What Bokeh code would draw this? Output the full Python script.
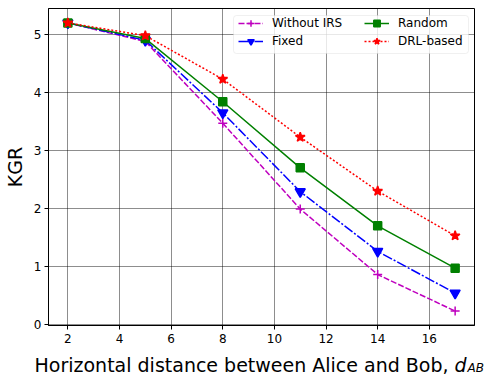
import numpy as np
from bokeh.plotting import figure
from bokeh.models import Range1d, FixedTicker, Legend, LegendItem, Label, BoxAnnotation
from bokeh.embed import file_html
from bokeh.resources import INLINE

# ---- data ----
distance = [2, 5, 8, 11, 14, 17]
without_irs = [5.20, 4.88, 3.47, 1.99, 0.86, 0.23]
fixed_irs = [5.20, 4.90, 3.65, 2.29, 1.26, 0.54]
random_irs = [5.20, 4.93, 3.84, 2.70, 1.70, 0.97]
drl_based = [5.20, 4.98, 4.23, 3.23, 2.30, 1.53]
series_names = ["Without IRS", "Fixed", "Random", "DRL-based"]
x_ticks = [2, 4, 6, 8, 10, 12, 14, 16]
y_ticks = [0, 1, 2, 3, 4, 5]
y_label = "KGR"
x_label = "Horizontal distance between Alice and Bob,"

FONT = "DejaVu Sans"
FW, FH = 426, 317

allv = without_irs + fixed_irs + random_irs + drl_based
xm = 0.05 * (max(distance) - min(distance))
ym = 0.05 * (max(allv) - min(allv))
xr = Range1d(min(distance) - xm, max(distance) + xm)
yr = Range1d(min(allv) - ym, max(allv) + ym)

p = figure(
    frame_width=FW, frame_height=FH,
    min_border_left=47, min_border_right=12, min_border_top=8, min_border_bottom=50,
    x_range=xr, y_range=yr,
    output_backend="svg", toolbar_location=None,
)
p.outline_line_color = "black"
p.outline_line_width = 1
p.outline_line_alpha = 1

for ax in (p.xaxis, p.yaxis):
    ax.axis_line_color = "black"
    ax.major_tick_line_color = "black"
    ax.major_tick_out = 4
    ax.major_tick_in = 0
    ax.minor_tick_line_color = None
    ax.major_label_text_font = FONT
    ax.major_label_text_font_size = "12px"
    ax.major_label_text_color = "black"
p.xaxis.ticker = FixedTicker(ticks=x_ticks)
p.yaxis.ticker = FixedTicker(ticks=y_ticks)
p.xaxis.major_label_standoff = 4
p.yaxis.major_label_standoff = 3

p.yaxis.axis_label = y_label
p.yaxis.axis_label_text_font = FONT
p.yaxis.axis_label_text_font_size = "19px"
p.yaxis.axis_label_text_font_style = "normal"
p.yaxis.axis_label_text_color = "black"
p.yaxis.axis_label_standoff = 5

for g in (p.xgrid, p.ygrid):
    g.grid_line_color = "black"
    g.grid_line_dash = "1 1"
    g.grid_line_width = 0.9
    g.grid_line_alpha = 1
p.xgrid.ticker = FixedTicker(ticks=x_ticks)
p.ygrid.ticker = FixedTicker(ticks=y_ticks)

styles = [
    (without_irs, "#bf00bf", "6 2", "cross", 9),
    (fixed_irs, "#0000ff", "10 2 2 2", "inverted_triangle", 10),
    (random_irs, "#008000", "solid", "square", 8),
    (drl_based, "#ff0000", "2 2", "star", 10),
]
items = []
for name, (ys, col, dash, mk, sz) in zip(series_names, styles):
    ln = p.line(distance, ys, line_color=col, line_width=1.5, line_dash=dash)
    sc = p.scatter(distance, ys, marker=mk, size=sz, fill_color=col, line_color=col, line_width=1.5)
    items.append(LegendItem(label=name, renderers=[ln, sc]))

# legend frame (matplotlib-like rounded box), then two borderless columns
p.add_layout(BoxAnnotation(left=185, right=420, bottom=272, top=310,
                           left_units="screen", right_units="screen",
                           bottom_units="screen", top_units="screen",
                           fill_color="white", fill_alpha=0.8,
                           line_color="#cccccc", line_width=1, border_radius=3))
for col_items, loc in ((items[:2], (190, 276)), (items[2:], (316, 276))):
    lg = Legend(
        items=col_items, location=loc, orientation="vertical",
        label_text_font=FONT, label_text_font_size="12px", label_text_color="black",
        glyph_width=25, glyph_height=16, label_height=16, label_standoff=9,
        spacing=2, padding=0, margin=0,
        border_line_color=None, background_fill_alpha=0,
    )
    p.add_layout(lg, "center")

ppx = FW / (xr.end - xr.start)
ppy = FH / (yr.end - yr.start)


def below(dx, dy):
    """frame-relative pixel offset (right, down from bottom-left) -> data coords"""
    return xr.start + dx / ppx, yr.start - dy / ppy


for txt, dx, dy, size, style in ((x_label, -14, 39, "19px", "normal"),
                                 ("d", 406, 39, "19px", "italic"),
                                 ("AB", 419, 42, "12px", "italic")):
    lx, ly = below(dx, dy)
    p.add_layout(Label(x=lx, y=ly, text=txt, text_align="left", text_baseline="alphabetic",
                       text_font=FONT, text_font_size=size, text_font_style=style,
                       text_color="black"), "below")

open("out.html", "w").write(file_html(p, INLINE))
